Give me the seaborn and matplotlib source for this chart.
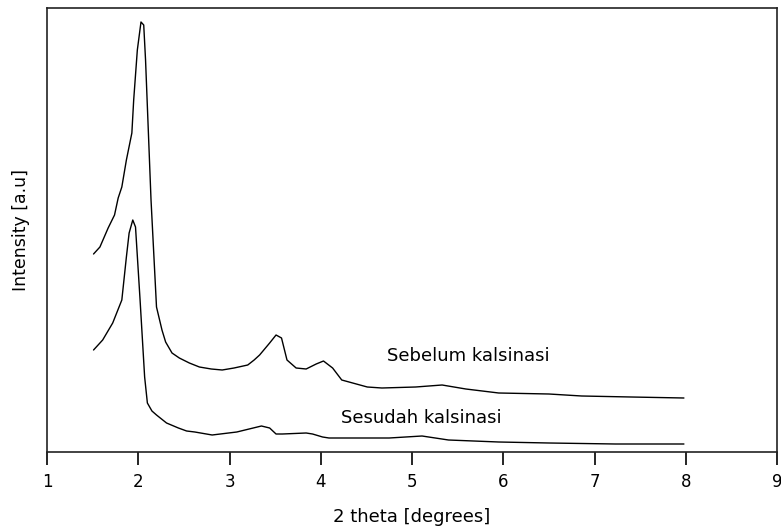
import matplotlib
matplotlib.use("Agg")
import matplotlib.pyplot as plt
import seaborn as sns
import pandas as pd

# 2 theta [degrees] and intensity [a.u]
theta_sebelum = [1.51, 1.58, 1.67, 1.74, 1.78, 1.82, 1.87, 1.93, 1.95, 1.99,
                 2.03, 2.06, 2.08, 2.14, 2.20, 2.26, 2.30, 2.37, 2.45, 2.56,
                 2.67, 2.80, 2.92, 3.05, 3.20, 3.27, 3.33, 3.44, 3.51, 3.57,
                 3.63, 3.73, 3.84, 3.95, 4.03, 4.13, 4.23, 4.39, 4.51, 4.67,
                 5.04, 5.33, 5.59, 5.95, 6.50, 6.86, 7.40, 7.98]
int_sebelum = [198, 205, 224, 237, 254, 265, 292, 319, 352, 402,
               430, 427, 392, 252, 145, 122, 110, 99, 94, 89,
               85, 83, 82, 84, 87, 92, 97, 109, 117, 114,
               92, 84, 83, 88, 91, 84, 72, 68, 65, 64,
               65, 67, 63, 59, 58, 56, 55, 54]

theta_sesudah = [1.51, 1.61, 1.72, 1.82, 1.87, 1.90, 1.94, 1.97, 2.02, 2.07,
                 2.10, 2.15, 2.20, 2.31, 2.44, 2.53, 2.62, 2.81, 3.08, 3.35,
                 3.44, 3.51, 3.58, 3.84, 3.91, 4.02, 4.09, 4.31, 4.75, 5.11,
                 5.40, 5.95, 6.50, 7.23, 7.98]
int_sesudah = [102, 112, 129, 152, 195, 219, 232, 225, 152, 75,
               49, 41, 37, 29, 24, 21, 20, 17, 20, 26,
               24, 18, 18, 19, 18, 15, 14, 14, 14, 16,
               12, 10, 9, 8, 8]

x_ticks = [1, 2, 3, 4, 5, 6, 7, 8, 9]

df_a = pd.DataFrame({"theta": theta_sebelum, "intensity": int_sebelum})
df_b = pd.DataFrame({"theta": theta_sesudah, "intensity": int_sesudah})

sns.set_style("white")
plt.rcParams["font.family"] = ["DejaVu Sans"]
plt.rcParams["text.color"] = "black"
plt.rcParams["axes.labelcolor"] = "black"
plt.rcParams["xtick.color"] = "black"

fig = plt.figure(figsize=(7.81, 5.32), dpi=100)
ax = fig.add_axes([47 / 781, 80 / 532, 730 / 781, 444 / 532])

sns.lineplot(data=df_a, x="theta", y="intensity", color="black", linewidth=1.0, ax=ax)
sns.lineplot(data=df_b, x="theta", y="intensity", color="black", linewidth=1.0, ax=ax)

ax.set_xlim(1, 9)
ax.set_ylim(0, 444)
ax.set_xticks(x_ticks)
ax.set_xticklabels([str(t) for t in x_ticks], fontsize=12)
ax.set_yticks([])
ax.tick_params(axis="x", direction="out", length=9, width=1.2, pad=6, bottom=True)

for s in ax.spines.values():
    s.set_visible(True)
    s.set_color("#222222")
    s.set_linewidth(1.2)

ax.set_xlabel("2 theta [degrees]", fontsize=13, labelpad=12)
ax.set_ylabel("Intensity [a.u]", fontsize=12.5, labelpad=12)

ax.text(4.73, 96, "Sebelum kalsinasi", fontsize=13, va="center", ha="left")
ax.text(4.22, 34, "Sesudah kalsinasi", fontsize=13, va="center", ha="left")

fig.savefig("out.png", dpi=100)
